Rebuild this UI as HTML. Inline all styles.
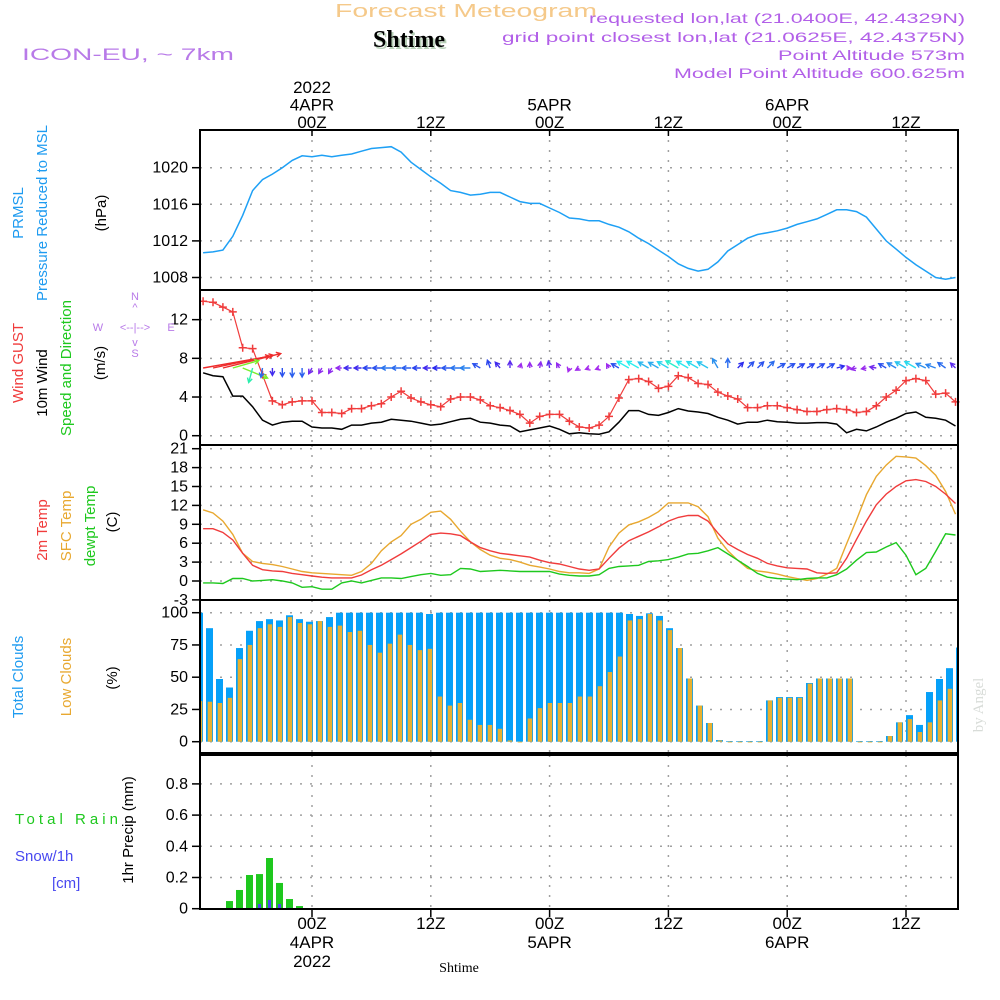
<!DOCTYPE html>
<html><head><meta charset="utf-8"><title>Forecast Meteogram - Shtime</title>
<style>
html,body{margin:0;padding:0;background:#fff;}
svg{display:block;font-family:"Liberation Sans",sans-serif;}
</style></head>
<body>
<svg id="chart" width="1000" height="1000" viewBox="0 0 1000 1000" xmlns="http://www.w3.org/2000/svg">
<rect x="0" y="0" width="1000" height="1000" fill="#fff"/>
<text x="466" y="17" text-anchor="middle" font-size="18" fill="#f5c98a" textLength="262" lengthAdjust="spacingAndGlyphs">Forecast Meteogram</text>
<text x="411" y="49" text-anchor="middle" font-family="Liberation Serif,serif" font-weight="bold" font-size="24" fill="#b8d0b8">Shtime</text>
<text x="409" y="47" text-anchor="middle" font-family="Liberation Serif,serif" font-weight="bold" font-size="24" fill="#000">Shtime</text>
<text x="22" y="60" font-size="17" fill="#b87ae8" textLength="212" lengthAdjust="spacingAndGlyphs">ICON-EU, ~ 7km</text>
<g fill="#b260e8" font-size="14" text-anchor="end">
<text x="965" y="23" textLength="376" lengthAdjust="spacingAndGlyphs">requested lon,lat (21.0400E, 42.4329N)</text>
<text x="965" y="42" textLength="463" lengthAdjust="spacingAndGlyphs">grid point closest lon,lat (21.0625E, 42.4375N)</text>
<text x="965" y="60" textLength="187" lengthAdjust="spacingAndGlyphs">Point Altitude 573m</text>
<text x="965" y="78" textLength="291" lengthAdjust="spacingAndGlyphs">Model Point Altitude 600.625m</text>
</g>
<g id="plots"></g>
<g id="labels" font-size="15">
<text transform="translate(23,213) rotate(-90)" text-anchor="middle" fill="#1e9bf0">PRMSL</text>
<text transform="translate(47,213) rotate(-90)" text-anchor="middle" fill="#1e9bf0">Pressure Reduced to MSL</text>
<text transform="translate(106,213) rotate(-90)" text-anchor="middle" fill="#000">(hPa)</text>
<text transform="translate(23,363) rotate(-90)" text-anchor="middle" fill="#f03c3c">Wind GUST</text>
<text transform="translate(47,383) rotate(-90)" text-anchor="middle" fill="#000">10m Wind</text>
<text transform="translate(71,368) rotate(-90)" text-anchor="middle" fill="#1ec81e">Speed and Direction</text>
<text transform="translate(105,363) rotate(-90)" text-anchor="middle" fill="#000">(m/s)</text>
<g fill="#b87ae8" font-size="11" text-anchor="middle">
<text x="135" y="300">N</text><text x="135" y="311">^</text>
<text x="98" y="331">W</text><text x="135" y="331">&lt;--|--&gt;</text><text x="171" y="331">E</text>
<text x="135" y="346">v</text><text x="135" y="357">S</text>
</g>
<text transform="translate(47,530) rotate(-90)" text-anchor="middle" fill="#f03c3c">2m Temp</text>
<text transform="translate(71,526) rotate(-90)" text-anchor="middle" fill="#e8a830">SFC Temp</text>
<text transform="translate(95,526) rotate(-90)" text-anchor="middle" fill="#1ec81e">dewpt Temp</text>
<text transform="translate(117,522) rotate(-90)" text-anchor="middle" fill="#000">(C)</text>
<text transform="translate(23,677) rotate(-90)" text-anchor="middle" fill="#1e9bf0">Total Clouds</text>
<text transform="translate(71,677) rotate(-90)" text-anchor="middle" fill="#e8a830">Low Clouds</text>
<text transform="translate(117,678) rotate(-90)" text-anchor="middle" fill="#000">(%)</text>
<text x="15" y="824" fill="#1ec81e" textLength="103" lengthAdjust="spacing">Total  Rain</text>
<text x="15" y="861" fill="#4848f0">Snow/1h</text>
<text x="52" y="888" fill="#4848f0">[cm]</text>
<text transform="translate(133,830) rotate(-90)" text-anchor="middle" fill="#000">1hr Precip (mm)</text>
<text transform="translate(983,705) rotate(-90)" text-anchor="middle" font-family="Liberation Serif,serif" font-size="15" fill="#d8dcd8">by Angel</text>
<text x="459" y="972" text-anchor="middle" font-family="Liberation Serif,serif" font-size="14" fill="#000">Shtime</text>
</g>
</svg>
<script>
const hourStart = -11;
const pressure = [1010.7,1010.8,1011.0,1012.5,1014.8,1017.5,1018.7,1019.3,1020.0,1020.8,1021.3,1021.2,1021.35,1021.2,1021.35,1021.5,1021.8,1022.1,1022.2,1022.3,1021.7,1020.6,1019.8,1019.0,1018.3,1017.5,1017.3,1017.0,1017.1,1017.3,1017.3,1016.8,1016.3,1016.1,1016.1,1015.6,1015.1,1014.5,1014.4,1014.2,1014.2,1013.8,1013.5,1013.0,1012.3,1011.7,1011.0,1010.3,1009.5,1009.0,1008.7,1008.9,1009.7,1010.9,1011.6,1012.3,1012.7,1012.9,1013.1,1013.4,1013.8,1014.1,1014.4,1014.9,1015.4,1015.4,1015.2,1014.6,1013.3,1012.0,1011.1,1010.2,1009.4,1008.7,1008.0,1007.8,1008.0];
const windGust = [13.9,13.8,13.3,12.8,9.1,9.0,6.3,3.6,3.2,3.5,3.6,3.6,2.4,2.4,2.3,2.8,2.8,3.1,3.3,4.0,4.6,3.9,3.5,3.2,3.0,3.8,4.0,4.0,3.7,3.1,2.9,2.6,2.2,1.3,2.0,2.2,2.2,1.5,0.9,0.8,1.1,2.0,3.9,5.8,5.9,5.6,4.9,5.1,6.2,6.0,5.4,5.3,4.5,4.1,3.8,2.9,2.9,3.1,3.1,2.9,2.7,2.5,2.5,2.7,2.8,2.7,2.4,2.5,3.1,4.0,4.7,5.7,5.9,5.7,4.3,4.4,3.5];
const windSpeed = [6.5,6.2,6.1,4.1,4.1,3.0,1.6,1.1,1.4,1.5,1.5,0.9,0.8,0.8,0.66,1.1,1.1,1.3,1.4,1.7,1.6,1.5,1.3,1.1,1.2,1.45,1.7,1.8,1.4,1.3,1.1,1.0,0.4,0.6,0.8,1.0,0.66,0.2,0.3,0.2,0.15,0.4,1.4,2.6,2.6,2.2,2.1,2.4,2.8,2.55,2.45,2.3,1.9,1.6,1.2,1.4,1.4,1.6,1.45,1.4,1.3,1.3,1.35,1.35,1.2,0.3,0.66,0.5,0.9,1.4,1.8,2.3,2.45,1.9,1.8,1.6,1.0];
const windDir = [80,78,76,74,112,195,190,180,180,180,180,210,210,210,270,270,270,270,270,270,270,270,270,270,270,270,270,270,300,340,320,0,15,0,10,350,330,200,240,250,250,330,300,300,300,300,300,300,300,300,300,300,330,0,45,45,45,45,60,60,60,60,60,60,75,90,255,260,280,300,300,300,300,295,290,305,315];
const temp2m = [8.3,8.3,7.7,6.5,4.4,2.5,1.8,1.6,1.5,1.2,1.0,0.8,0.6,0.5,0.5,0.5,0.95,1.8,2.5,3.4,4.3,5.3,6.3,7.4,7.6,7.5,7.2,6.2,5.3,4.8,4.4,4.2,4.0,3.8,3.3,2.9,2.7,2.3,1.9,1.7,1.9,3.6,5.2,6.4,7.1,7.8,8.6,9.5,10.1,10.4,10.4,9.5,7.6,5.9,5.0,4.2,3.6,2.8,2.4,2.1,2.0,1.9,1.3,1.2,1.3,3.6,6.6,9.5,12.1,13.8,15.0,15.9,16.1,15.8,15.0,13.8,12.3];
const tempSfc = [11.3,10.8,9.5,7.4,4.4,3.1,2.8,2.6,2.3,1.9,1.5,1.3,1.2,1.1,1.0,0.9,1.5,2.8,4.8,6.2,7.2,9.0,9.8,10.9,11.1,9.8,7.9,6.2,5.0,4.1,3.6,3.4,3.0,2.5,2.2,1.9,1.5,1.3,1.3,1.2,1.9,5.4,7.6,8.9,9.4,10.1,11.0,12.4,12.4,12.4,11.8,10.2,6.8,4.8,3.3,2.0,1.6,1.4,1.1,0.7,0.4,0.1,0.4,1.1,2.0,5.9,9.7,13.7,16.6,18.4,19.8,19.7,19.5,18.3,16.8,14.2,10.6];
const dewpt = [-0.3,-0.3,-0.4,0.4,0.4,0,0.1,0.2,0,-0.3,-1.0,-0.9,-1.3,-1.3,-0.3,0,-0.3,0.1,0.5,0.5,0.4,0.7,1.0,1.2,0.9,1.0,2.0,1.9,1.5,1.6,1.7,1.6,1.5,1.5,1.5,1.5,1.1,0.9,0.8,0.8,1.0,2.0,2.3,2.4,2.5,3.1,3.2,3.4,3.8,4.3,4.4,4.8,5.3,4.3,3.3,2.3,1.2,0.6,0.4,0.3,0.2,0.4,0.5,0.5,1.0,1.9,3.3,4.5,4.6,5.4,6.1,4.1,1.0,2.0,4.7,7.5,7.3];
const totalClouds = [100,88,48.6,42,72.6,86,93.5,95,94,98,95,93,93.5,96.6,100,100,100,100,100,100,100,100,100,99,100,100,100,100,100,100,100,100,100,100,100,100,100,100,100,100,100,100,100,99,97.5,99.5,97.5,88,72.6,49,28,14.5,1.3,0.5,0.5,0.5,0.5,32,34.6,34.6,34.6,45.5,49,49,49,49,0.5,0.5,0.5,4.4,15,20.6,13,38.5,48.6,57,73];
const lowClouds = [31.5,31,30,34,64,75,88,91,89,96.6,92,91,93.5,89,90,85,86,75,69,76,83,75,71,72,35,28,30,17,13,13,10,1,0,18,26,30,30,30,35,35,43,54,66,94,95,99,94,86.5,72.6,49,28,14.5,1,0,0,0,0,32,34,34,34,45,49,49,49,49,0,0,0,4.4,15,17.5,7.5,15,32,41,46];
const rain = [0,0,0,0.049,0.12,0.216,0.222,0.325,0.165,0.062,0.017,0,0,0,0,0,0,0,0,0,0,0,0,0,0,0,0,0,0,0,0,0,0,0,0,0,0,0,0,0,0,0,0,0,0,0,0,0,0,0,0,0,0,0,0,0,0,0,0,0,0,0,0,0,0,0,0,0,0,0,0,0,0,0,0,0,0];
const snow = [0,0,0,0,0,0,0.03,0.056,0.03,0.006,0,0,0,0,0,0,0,0,0,0,0,0,0,0,0,0,0,0,0,0,0,0,0,0,0,0,0,0,0,0,0,0,0,0,0,0,0,0,0,0,0,0,0,0,0,0,0,0,0,0,0,0,0,0,0,0,0,0,0,0,0,0,0,0,0,0,0];
const pressureTicks = [1008,1012,1016,1020];
const windTicks = [0,4,8,12];
const tempTicks = [-3,0,3,6,9,12,15,18,21];
const cloudTicks = [0,25,50,75,100];
const precipTicks = [0,0.2,0.4,0.6,0.8];
const timeTicks = [0,12,24,36,48,60];
const timeTopLabels = [["2022","4APR","00Z"],["","","12Z"],["","5APR","00Z"],["","","12Z"],["","6APR","00Z"],["","","12Z"]];
const timeBottomLabels = [["00Z","4APR","2022"],["12Z","",""],["00Z","5APR",""],["12Z","",""],["00Z","6APR",""],["12Z","",""]];

const L = 200, R = 958;
const xH = h => 312 + 9.9 * h;
const xI = i => xH(hourStart + i);
const xBar = i => 199.5 + 10 * i;
const yP = v => 167.7 + (1020 - v) * 9.15;
const yW = v => 435.7 - v * 9.67;
const yT = v => 581 - v * 6.3;
const yC = v => 741.7 - v * 1.29;
const yR = v => 908.7 - v * 156;

const NS = "http://www.w3.org/2000/svg";
const plots = document.getElementById("plots");
function el(tag, attrs, parent) {
  const e = document.createElementNS(NS, tag);
  for (const k in attrs) e.setAttribute(k, attrs[k]);
  (parent || plots).appendChild(e);
  return e;
}
function pathFrom(vals, ys) {
  return vals.map((v, i) => (i ? "L" : "M") + xI(i).toFixed(1) + "," + ys(v).toFixed(1)).join("");
}

const panels = [
  {name:"pressure", top:130, bot:290, ticks:pressureTicks, ys:yP, fmt:v=>String(v)},
  {name:"wind", top:290, bot:445, ticks:windTicks, ys:yW, fmt:v=>String(v)},
  {name:"temp", top:445, bot:600, ticks:tempTicks, ys:yT, fmt:v=>String(v)},
  {name:"clouds", top:600, bot:753, ticks:cloudTicks, ys:yC, fmt:v=>String(v)},
  {name:"precip", top:755, bot:909, ticks:precipTicks, ys:yR, fmt:v=>v===0?"0":v.toFixed(1)}
];
panels.forEach(p => {
  const g = el("g", {});
  
  
  timeTicks.forEach(h => {
    const gl = el("line", {x1:xH(h), x2:xH(h), y1:p.top, y2:p.bot, stroke:"#a0a0a0", "stroke-width":1.5, "stroke-dasharray":"2 8"}, g);
    
    
  });
  p.ticks.forEach(v => {
    const y = p.ys(v);
    if (y > p.top + 2 && y < p.bot - 2) {
      const hl = el("line", {x1:L, x2:R, y1:y, y2:y, stroke:"#a0a0a0", "stroke-width":1.5, "stroke-dasharray":"2 8"}, g);
      
      
    }
    const tk = el("line", {x1:L-8, x2:L, y1:y, y2:y, stroke:"#000", "stroke-width":1.5}, g);
    
    
    const t = el("text", {x:L-12, y:y+5, "text-anchor":"end", "font-size":16, fill:"#000"}, g);
    
    
    t.textContent = p.fmt(v);
  });
});

const pl = el("path", {d:pathFrom(pressure, yP), fill:"none", stroke:"#1ea0f5", "stroke-width":1.5});



const ws = el("path", {d:pathFrom(windSpeed, yW), fill:"none", stroke:"#000", "stroke-width":1.5});


const gl = el("path", {d:pathFrom(windGust, yW), fill:"none", stroke:"#f03c3c", "stroke-width":1.2});


windGust.forEach((v, i) => {
  const x = xI(i), y = yW(v);
  const m = el("path", {d:`M${x-4},${y}H${x+4}M${x},${y-4}V${y+4}`, stroke:"#f03c3c", "stroke-width":1.5});
  
  
});
function speedColor(s) {
  const stops = [[0,280],[0.8,270],[1.3,232],[2.0,205],[2.6,180],[3.2,150],[4.2,90],[5.5,20],[6,0]];
  let hue = 0;
  if (s <= stops[0][0]) hue = stops[0][1];
  else if (s >= stops[stops.length-1][0]) hue = 0;
  else for (let k = 0; k < stops.length-1; k++) {
    if (s >= stops[k][0] && s <= stops[k+1][0]) {
      const t = (s - stops[k][0]) / (stops[k+1][0] - stops[k][0]);
      hue = stops[k][1] + t * (stops[k+1][1] - stops[k][1]);
    }
  }
  return `hsl(${hue.toFixed(0)},85%,55%)`;
}
windDir.forEach((d, i) => {
  const s = windSpeed[i];
  const len = Math.max(3 + 4 * s, 1.6 * s * s);
  const a = d * Math.PI / 180;
  const x0 = xI(i), y0 = 368;
  const x1 = x0 + len * Math.sin(a), y1 = y0 - len * Math.cos(a);
  const hl = 5;
  const b1 = a + Math.PI - 0.5, b2 = a + Math.PI + 0.5;
  const col = speedColor(s);
  const ar = el("path", {d:`M${x0.toFixed(1)},${y0}L${x1.toFixed(1)},${y1.toFixed(1)}M${(x1+hl*Math.sin(b1)).toFixed(1)},${(y1-hl*Math.cos(b1)).toFixed(1)}L${x1.toFixed(1)},${y1.toFixed(1)}L${(x1+hl*Math.sin(b2)).toFixed(1)},${(y1-hl*Math.cos(b2)).toFixed(1)}`, fill:"none", stroke:col, "stroke-width":1.4});
  
  
});

[[tempSfc,"#e8a830","sfc-temp-line"],[temp2m,"#f03c3c","temp-2m-line"],[dewpt,"#1ec81e","dewpt-line"]].forEach(([vals,col,nm]) => {
  const p = el("path", {d:pathFrom(vals, yT), fill:"none", stroke:col, "stroke-width":1.4});
  
  
});

totalClouds.forEach((v, i) => {
  const x = xBar(i);
  const xl = Math.max(L, x - 3.5), xr = Math.min(R, x + 3.5);
  const y = yC(v);
  const b = el("rect", {x:xl, y:y, width:Math.max(0, xr - xl), height:yC(0) - y, fill:"#06a0f8"});
  
  
});
lowClouds.forEach((v, i) => {
  const x = xBar(i);
  const xl = Math.max(L, x - 1.8), xr = Math.min(R, x + 2.7);
  const y = yC(v);
  const b = el("rect", {x:xl, y:y, width:Math.max(0, xr - xl), height:Math.max(0.8, yC(0) - y), fill:"#e8b030"});
  
  
});

rain.forEach((v, i) => {
  if (v <= 0) return;
  const x = xBar(i), y = yR(v);
  const b = el("rect", {x:x-3.5, y:y, width:7, height:yR(0)-y, fill:"#1ec81e"});
  
  
});
snow.forEach((v, i) => {
  if (v <= 0) return;
  const x = xBar(i), y = yR(v);
  const b = el("rect", {x:x-1.5, y:y, width:3, height:yR(0)-y, fill:"#4848f0"});
  
  
});

panels.forEach(p => {
  const f = el("rect", {x:L, y:p.top, width:R-L, height:p.bot-p.top, fill:"none", stroke:"#000", "stroke-width":2});
  
  
});

timeTicks.forEach((h, k) => {
  const x = xH(h);
  const t1 = el("line", {x1:x, x2:x, y1:130, y2:136, stroke:"#000", "stroke-width":1.5});
  
  
  const t2 = el("line", {x1:x, x2:x, y1:909, y2:917, stroke:"#000", "stroke-width":1.5});
  
  
  timeTopLabels[k].forEach((s, r) => {
    if (!s) return;
    const t = el("text", {x:x, y:93 + r*17.5, "text-anchor":"middle", "font-size":17, fill:"#000"});
    
    
    t.textContent = s;
  });
  timeBottomLabels[k].forEach((s, r) => {
    if (!s) return;
    const t = el("text", {x:x, y:929 + r*19, "text-anchor":"middle", "font-size":17, fill:"#000"});
    
    
    t.textContent = s;
  });
});
</script>
</body></html>
